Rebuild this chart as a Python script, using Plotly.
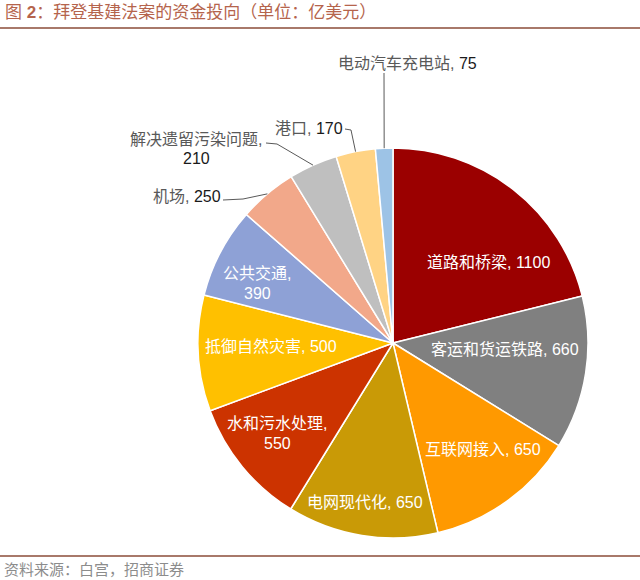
import math
import plotly.graph_objects as go

W, H = 640, 580

# data
categories = ['道路和桥梁', '客运和货运铁路', '互联网接入', '电网现代化', '水和污水处理',
              '抵御自然灾害', '公共交通', '机场', '解决遗留污染问题', '港口', '电动汽车充电站']
values = [1100, 660, 650, 650, 550, 500, 390, 250, 210, 170, 75]

colors = ['#9B0000', '#808080', '#FF9900', '#C99A06', '#CC3300', '#FFC000',
          '#8EA1D6', '#F2A88A', '#BFBFBF', '#FFD384', '#9DC3E6']

# pie geometry in pixels
cx, cy, r = 393, 343, 195

# label centres (px) and line breaks
label_pos = [(488, 262), (505, 349), (483, 449), (365, 502), (277, 433),
             (271, 346), (257, 283), (187, 196), (196, 149), (309, 129), (407, 63)]
two_line = {'水和污水处理', '公共交通', '解决遗留污染问题'}
outside = {'机场', '解决遗留污染问题', '港口', '电动汽车充电站'}
# leader line start points (px), end at slice edge
leader_start = {
    '机场': [(223, 200), (243, 199)],
    '解决遗留污染问题': [(266, 143), (277, 144)],
    '港口': [(345, 129), (351, 130)],
    '电动汽车充电站': [(384, 73)],
}

FONT = 'Liberation Sans, Noto Sans CJK SC'


def px(x, y):
    return x / W, 1 - y / H


fig = go.Figure(go.Pie(
    labels=categories,
    values=values,
    sort=False,
    direction='clockwise',
    rotation=0,
    marker=dict(colors=colors, line=dict(color='white', width=1.5)),
    textinfo='none',
    hoverinfo='label+value',
    showlegend=False,
    domain=dict(x=[(cx - r) / W, (cx + r) / W], y=[1 - (cy + r) / H, 1 - (cy - r) / H]),
))

annotations = []
shapes = []


def add_text(lx, ly, txt, col):
    x, y = px(lx, ly)
    annotations.append(dict(x=x, y=y, xref='paper', yref='paper', text=txt, showarrow=False,
                            xanchor='center', yanchor='middle',
                            font=dict(size=16, color=col, family=FONT)))


total = sum(values)
cum = 0
for name, v, (lx, ly) in zip(categories, values, label_pos):
    mid = (cum + v / 2) / total * 2 * math.pi
    cum += v
    if name in outside:
        name_txt = f'<span style="color:#595959">{name},</span>'
        col = '#1a1a1a'
        ex, ey = cx + r * math.sin(mid), cy - r * math.cos(mid)
        pts = leader_start[name] + [(ex, ey)]
        path = 'M ' + ' L '.join(f'{p[0] / W},{1 - p[1] / H}' for p in pts)
        shapes.append(dict(type='path', xref='paper', yref='paper', path=path,
                           line=dict(color='#595959', width=1)))
    else:
        name_txt = f'{name},'
        col = 'white'
    if name in two_line:
        add_text(lx, ly - 10, name_txt, col)
        add_text(lx, ly + 10, f'{v}', col)
    else:
        add_text(lx, ly, f'{name_txt} {v}', col)

# title and source
annotations.append(dict(x=3 / W, y=1 - 13 / H, xref='paper', yref='paper', showarrow=False,
                        xanchor='left', yanchor='middle',
                        text='图 <b>2</b>：拜登基建法案的资金投向（单位：亿美元）',
                        font=dict(size=17, color='#B5644C', family=FONT)))
annotations.append(dict(x=2 / W, y=1 - 569 / H, xref='paper', yref='paper', showarrow=False,
                        xanchor='left', yanchor='middle',
                        text='资料来源：白宫，招商证券',
                        font=dict(size=15, color='#8C8C8C', family=FONT)))
for ly in (28, 556):
    shapes.append(dict(type='line', xref='paper', yref='paper', x0=0, x1=1,
                       y0=1 - ly / H, y1=1 - ly / H, line=dict(color='#A8796A', width=2)))

fig.update_layout(
    width=W, height=H,
    margin=dict(l=0, r=0, t=0, b=0),
    paper_bgcolor='white',
    plot_bgcolor='white',
    annotations=annotations,
    shapes=shapes,
    font=dict(family=FONT),
)

fig.write_html('out.html', config={'displayModeBar': False},
               post_script="document.body.style.margin='0';")
